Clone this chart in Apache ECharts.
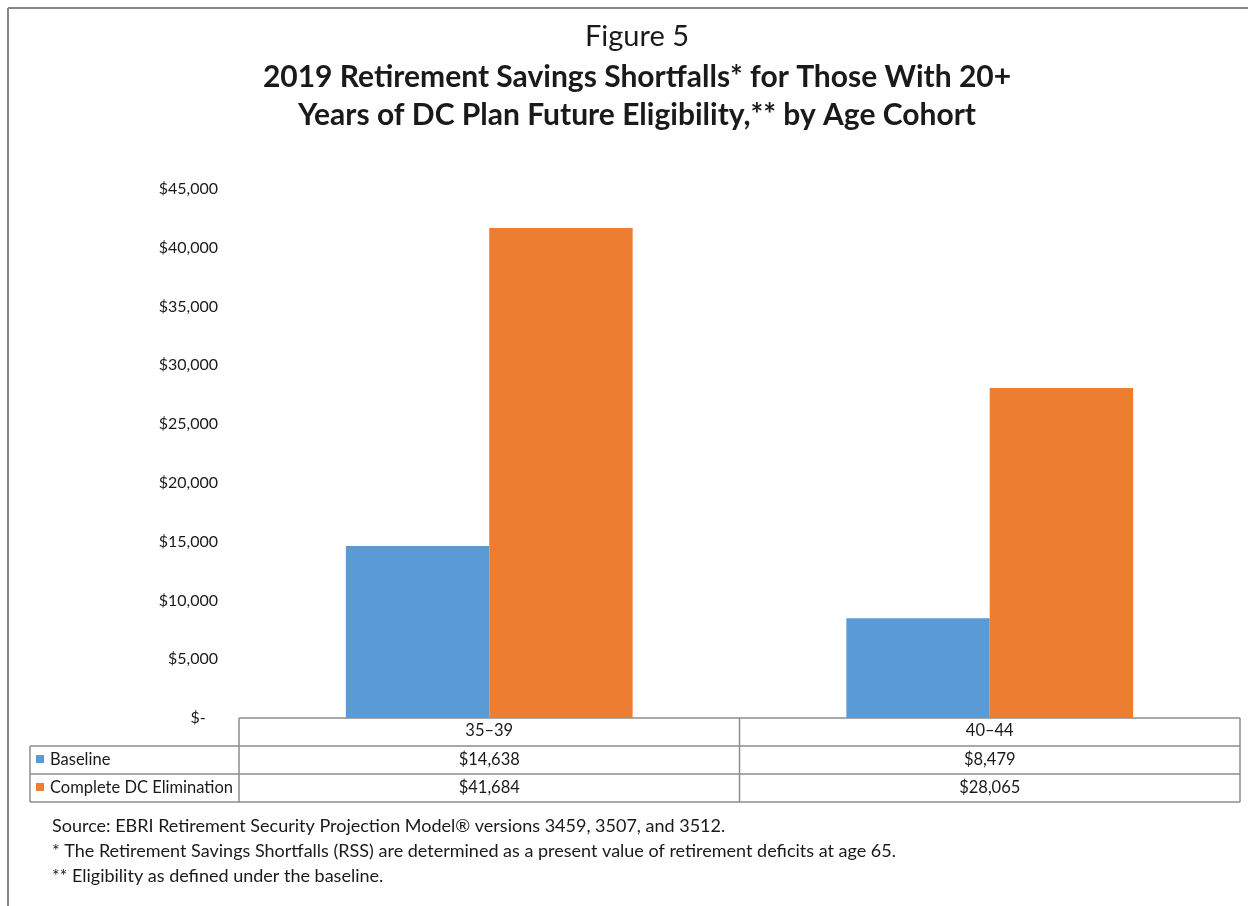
<!DOCTYPE html>
<html>
<head>
<meta charset="utf-8">
<script src="https://cdn.jsdelivr.net/npm/echarts@6/dist/echarts.min.js"></script>
<style>
  html, body { margin: 0; padding: 0; background: #fff; }
  #chart { width: 1248px; height: 906px; }
</style>
</head>
<body>
<div id="chart"></div>
<script>
// Age cohorts and shortfall values (USD)
const categories = ['35–39', '40–44'];
const seriesNames = ['Baseline', 'Complete DC Elimination'];
const baseline = [14638, 8479];
const completeDC = [41684, 28065];
const seriesColors = ['#5B9BD5', '#ED7D31'];

const titleLines = [
  'Figure 5',
  '2019 Retirement Savings Shortfalls* for Those With 20+',
  'Years of DC Plan Future Eligibility,** by Age Cohort'
];
const notes = [
  'Source: EBRI Retirement Security Projection Model® versions 3459, 3507, and 3512.',
  '* The Retirement Savings Shortfalls (RSS) are determined as a present value of retirement deficits at age 65.',
  '** Eligibility as defined under the baseline.'
];

const FONT = 'Lato, "Open Sans", sans-serif';
const TEXT = '#1a1a1a';
const LINE = '#8c8c8c';

function money(v) {
  if (v === 0) return '$-   ';
  return '$' + v.toLocaleString('en-US');
}

const chart = echarts.init(document.getElementById('chart'), null, { renderer: 'canvas' });

const option = {
  backgroundColor: '#fff',
  animation: false,
  title: [
    { text: titleLines[0], left: 632, top: 17, textAlign: 'center',
      textStyle: { fontFamily: FONT, fontSize: 29, fontWeight: 'normal', color: TEXT } },
    { text: titleLines[1], left: 632, top: 57, textAlign: 'center',
      textStyle: { fontFamily: FONT, fontSize: 30, fontWeight: 'bold', color: TEXT } },
    { text: titleLines[2], left: 632, top: 95, textAlign: 'center',
      textStyle: { fontFamily: FONT, fontSize: 30, fontWeight: 'bold', color: TEXT } }
  ],
  grid: { left: 239, right: 8, top: 189, bottom: 188, containLabel: false },
  xAxis: {
    type: 'category',
    data: categories,
    axisLine: { show: false },
    axisTick: { show: false },
    axisLabel: { show: false }
  },
  yAxis: {
    type: 'value',
    min: 0,
    max: 45000,
    interval: 5000,
    splitLine: { show: false },
    axisLine: { show: false },
    axisTick: { show: false },
    axisLabel: {
      formatter: money,
      margin: 21,
      fontFamily: FONT,
      fontSize: 16,
      color: TEXT
    }
  },
  series: [
    { name: seriesNames[0], type: 'bar', data: baseline, barGap: '0%', barCategoryGap: '42.7%',
      itemStyle: { color: seriesColors[0] } },
    { name: seriesNames[1], type: 'bar', data: completeDC, barGap: '0%', barCategoryGap: '42.7%',
      itemStyle: { color: seriesColors[1] } }
  ]
};

chart.setOption(option);

// Data table under the plot, aligned to the category bands
function buildTable() {
  const n = categories.length;
  const c0 = chart.convertToPixel({ xAxisIndex: 0 }, categories[0]);
  const c1 = chart.convertToPixel({ xAxisIndex: 0 }, categories[n - 1]);
  const band = n > 1 ? (c1 - c0) / (n - 1) : 1000;
  const left = c0 - band / 2;
  const right = c1 + band / 2;
  const yTop = chart.convertToPixel({ yAxisIndex: 0 }, 0);
  const rowH = 28;
  const legendLeft = 30;
  const rows = [yTop, yTop + rowH, yTop + 2 * rowH, yTop + 3 * rowH];
  const g = [];
  const line = (x1, y1, x2, y2) => ({
    type: 'line', silent: true,
    shape: { x1, y1, x2, y2 },
    style: { stroke: LINE, lineWidth: 1.5 }
  });
  // horizontal rules
  g.push(line(left, rows[0], right, rows[0]));
  g.push(line(legendLeft, rows[1], right, rows[1]));
  g.push(line(legendLeft, rows[2], right, rows[2]));
  g.push(line(legendLeft, rows[3], right, rows[3]));
  // vertical rules
  g.push(line(legendLeft, rows[1], legendLeft, rows[3]));
  for (let i = 0; i <= n; i++) {
    const x = left + i * band;
    g.push(line(x, rows[0], x, rows[3]));
  }
  const txt = (x, y, s, align) => ({
    type: 'text', silent: true, x, y,
    style: { text: s, fontFamily: FONT, fontSize: 16.5, fill: TEXT,
             align: align || 'center', verticalAlign: 'middle' }
  });
  // header row: category names
  categories.forEach((c, i) => {
    g.push(txt(chart.convertToPixel({ xAxisIndex: 0 }, c), rows[0] + rowH / 2 - 1, c));
  });
  // series rows with legend keys
  [baseline, completeDC].forEach((vals, r) => {
    const yc = rows[r + 1] + rowH / 2;
    g.push({ type: 'rect', silent: true,
      shape: { x: 36, y: yc - 5, width: 8, height: 8 },
      style: { fill: seriesColors[r] } });
    g.push(txt(50, yc, seriesNames[r], 'left'));
    vals.forEach((v, i) => {
      g.push(txt(chart.convertToPixel({ xAxisIndex: 0 }, categories[i]), yc, money(v)));
    });
  });
  // footnotes
  notes.forEach((s, i) => {
    g.push({ type: 'text', silent: true, x: 52, y: 826 + i * 25,
      style: { text: s, fontFamily: FONT, fontSize: 18, fill: TEXT,
               align: 'left', verticalAlign: 'middle' } });
  });
  // outer frame (top and left edges)
  g.push({ type: 'line', silent: true, shape: { x1: 8, y1: 8, x2: 1248, y2: 8 },
           style: { stroke: '#888', lineWidth: 2 } });
  g.push({ type: 'line', silent: true, shape: { x1: 8, y1: 8, x2: 8, y2: 906 },
           style: { stroke: '#888', lineWidth: 2 } });
  chart.setOption({ graphic: g });
}
buildTable();
</script>
</body>
</html>
